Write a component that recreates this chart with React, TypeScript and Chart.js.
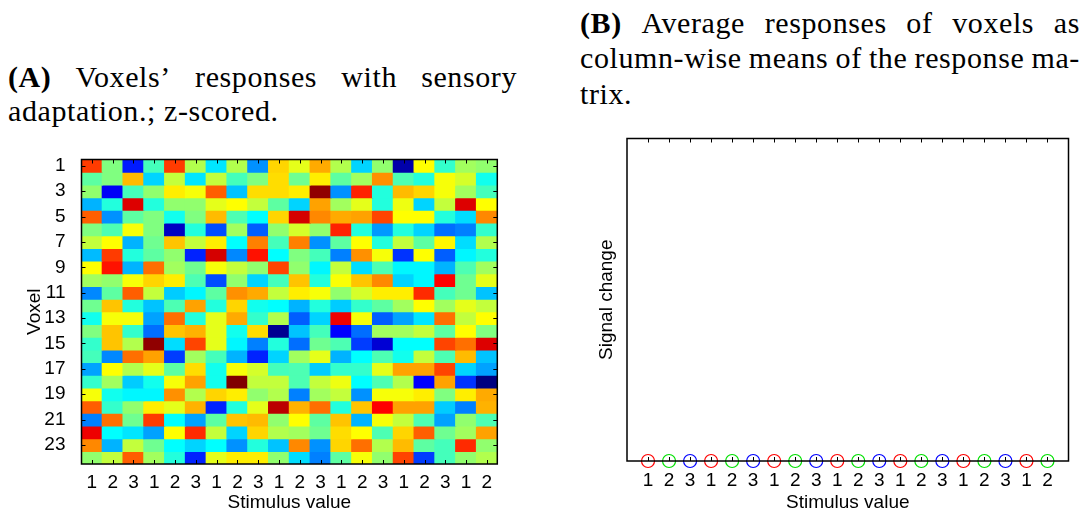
import React, { useEffect, useRef } from 'react';
import { Chart, registerables } from 'chart.js';

Chart.register(...registerables);

// Stimulus value shown in each of the 20 columns (trials)
const stimulusValues = [1, 2, 3, 1, 2, 3, 1, 2, 3, 1, 2, 3, 1, 2, 3, 1, 2, 3, 1, 2];

// Voxel rows that carry a tick label
const voxelTicks = [1, 3, 5, 7, 9, 11, 13, 15, 17, 19, 21, 23];

// z-scored responses: one row per voxel (24), one column per trial (20)
const responses = [
  [1.9, 0, -2.1, -0.35, 1.9, 0.3, -0.9, 0.3, -1.4, 1.0, 0.6, 1.25, 0.3, -1.0, 0.1, -2.75, 0.75, -0.45, 0.2, 0.1],
  [-0.2, 0, 1.15, -1.0, 0.4, -0.9, 0.4, -0.35, 0, 0.95, -0.1, 0.85, -0.2, 0.2, 1.4, -0.3, -0.55, 0.7, 0.5, -0.65],
  [0.1, -2.3, -0.35, 0.1, 0.85, 0.7, 1.7, -1.1, 0.95, 0.95, 0.85, 2.9, -1.4, 2.05, -0.55, 1.15, 1.0, 0.7, 0.2, -0.35],
  [-1.2, -0.55, 2.45, -0.55, 0.1, 0.1, 0.6, 0.75, 0.4, -0.2, -1.0, 1.3, 0.2, 0.6, -0.55, 0.65, -1.0, 0.4, 2.45, 0.75],
  [1.7, -1.4, -0.2, 0, -0.65, 0, 1.15, -0.3, -0.75, 1.0, 2.5, 1.45, 1.25, 1.3, 1.85, 0.75, 0.75, -0.55, -0.95, 1.45],
  [0, -0.3, 0.7, 0, -2.6, -0.55, -1.8, 0.2, -1.7, 0.1, 0.5, 0.1, 2.05, -0.55, -1.35, -0.55, -1.0, -1.6, -1.5, -0.45],
  [0.4, 0.75, -1.2, -0.1, 1.1, 0.4, 0.85, -0.75, 1.5, -0.35, 1.5, -1.4, -0.2, 0.75, -0.55, 0.4, -0.2, 0.8, -0.95, 0.3],
  [-1.15, 1.9, -0.55, -0.2, 0.1, -2.05, 2.5, -1.45, 2.15, -0.75, 0, -0.35, -1.5, 1.4, 0.7, -1.95, 0.75, -1.7, -0.8, -0.55],
  [0.75, 2.15, -1.2, 1.6, 0.2, -0.1, 0.7, 0.4, 0.1, 1.85, 0.1, -0.8, 0.4, -0.95, -0.3, -0.8, -0.8, -1.2, -0.3, 0.2],
  [0.2, 0.1, 0.7, 1.0, 0.85, -0.3, -1.8, 0.1, -1.0, -0.35, 1.1, -0.55, 0.72, 1.1, 1.45, -1.0, -0.8, 2.25, -0.1, 0.6],
  [-1.45, -0.2, 1.7, 0.4, -1.05, -0.8, -0.2, 1.4, 1.25, 0.4, 0.85, 0.7, 0.1, 0.5, 0.85, 0.85, 2.0, -0.35, -0.1, -1.1],
  [-0.1, 1.1, -0.55, -1.1, -0.3, 1.3, -0.55, 1.0, -0.65, -0.75, -1.2, -0.55, -1.05, -0.45, -0.2, 0.2, 0.75, 0.2, 0.6, 0.4],
  [-0.65, 0.7, 0.7, -1.3, 1.6, -0.55, 0.6, 1.25, -0.45, 0.3, -1.7, -1.0, 2.35, 0.7, -1.7, -1.3, -0.9, 1.6, 0.4, 0.75],
  [0, 1.1, -0.45, -1.6, 1.1, 1.2, 0.6, -0.65, 0.95, -2.9, -1.1, -0.35, -2.25, -1.6, 0.2, 0.2, 0.4, -0.2, 0.75, 0],
  [-0.45, 1.1, 0.3, 2.9, -0.95, 1.85, 0.6, -0.8, -1.5, -0.55, -1.6, -0.1, -0.3, -1.9, -2.5, -0.75, -0.75, 1.85, 1.6, 2.45],
  [-0.35, -1.45, 1.6, 1.3, -1.9, 0.2, -0.35, -1.2, -2.05, -1.0, 0.2, 0.6, -1.2, -0.75, -0.3, -0.65, 0.4, -0.3, 1.15, -1.1],
  [-1.3, 0.75, 0.3, 0.6, -0.2, 0.95, -0.65, 0.7, 0.5, -0.35, -0.3, -1.05, -0.45, -0.45, 0.6, 1.3, 1.3, 1.85, -1.0, -1.3],
  [-0.45, 0.2, -1.05, -0.65, 0.7, 1.3, -0.65, 3.0, 0.4, 0.4, -0.3, 0.4, 0.65, -0.75, -0.3, 0.3, -2.25, 1.3, -1.95, -3.0],
  [0.7, -0.65, -0.8, -0.8, 1.4, 0.3, 1.0, 0.85, 0.1, 0.3, -1.5, 0.2, 0.4, -1.4, 0.7, 0.7, 0.85, 0, 0.85, 1.25],
  [1.7, -0.45, 0.1, 0.85, 0.6, 1.2, -2.05, -0.55, 0.6, 2.65, 1.2, 1.6, -0.55, 1.1, 2.25, 1.3, 1.3, -1.05, -1.5, 1.2],
  [-1.5, 1.6, -0.1, 1.9, -0.75, -1.3, -0.2, 1.1, 1.15, 0.1, 0.75, -0.2, 1.1, -1.2, 0.7, 0.4, -0.3, -1.3, 0.1, -0.3],
  [2.35, -0.75, -0.9, -1.3, 0.75, 2.0, 0.4, -1.0, 1.0, 0.3, 0.2, -0.1, 0.95, 0.75, -0.3, 1.0, 1.7, -0.1, 0.2, 1.3],
  [1.45, -1.2, 0.4, -0.1, -0.75, -1.0, -0.75, -1.4, -0.55, -1.1, 1.45, -1.4, 1.0, 1.6, 0.3, 1.15, -0.2, -0.35, 2.0, 0.1],
  [0.1, 0.4, 1.7, 0.2, -0.55, -2.05, 0.6, 0.85, 0.85, 0.1, -0.95, -1.5, -0.2, 0.7, 0.1, 1.85, -1.9, -0.35, 0.1, 0.3],
];

// Average response per trial as plotted in panel B
const columnMeans = [0, 0, 0, 0, 0, 0, 0, 0, 0, 0, 0, 0, 0, 0, 0, 0, 0, 0, 0, 0];

// Colour limits of the heat map
const colorLimits = [-3, 3];

// Marker colour per stimulus value
const stimulusColors: Record<number, string> = { 1: '#ff0000', 2: '#00e000', 3: '#0000ff' };

const titleA1 = ['(A)', 'Voxels\u2019', 'responses', 'with', 'sensory'];
const titleA2 = 'adaptation.; z-scored.';
const titleB1 = ['(B)', 'Average', 'responses', 'of', 'voxels', 'as'];
const titleB2 = ['column-wise', 'means', 'of', 'the', 'response', 'ma-'];
const titleB3 = 'trix.';

const SERIF = '"Liberation Serif", "DejaVu Serif", serif';
const SANS = '"Liberation Sans", Arial, sans-serif';

function clamp01(v: number) {
  return Math.max(0, Math.min(1, v));
}

// MATLAB-style "jet" colour map
function jet(value: number) {
  const t = clamp01((value - colorLimits[0]) / (colorLimits[1] - colorLimits[0]));
  const r = clamp01(1.5 - Math.abs(4 * t - 3));
  const g = clamp01(1.5 - Math.abs(4 * t - 2));
  const b = clamp01(1.5 - Math.abs(4 * t - 1));
  return `rgb(${Math.round(r * 255)},${Math.round(g * 255)},${Math.round(b * 255)})`;
}

type FrameOpts = {
  xTicks: number[];
  yTicks: number[];
  top: boolean;
  bottom: boolean;
  left: boolean;
  right: boolean;
  length: number;
};

// Draws the axes box with inward-pointing tick marks
function makeFrame(o: FrameOpts) {
  return {
    id: 'frameTicks',
    afterDatasetsDraw(chart: any) {
      const { ctx, chartArea: a, scales } = chart;
      ctx.save();
      ctx.strokeStyle = '#000';
      ctx.lineWidth = 1;
      ctx.beginPath();
      for (const v of o.xTicks) {
        const px = Math.round(scales.x.getPixelForValue(v)) + 0.5;
        if (o.bottom) {
          ctx.moveTo(px, a.bottom);
          ctx.lineTo(px, a.bottom - o.length);
        }
        if (o.top) {
          ctx.moveTo(px, a.top);
          ctx.lineTo(px, a.top + o.length);
        }
      }
      for (const v of o.yTicks) {
        const py = Math.round(scales.y.getPixelForValue(v)) + 0.5;
        if (o.left) {
          ctx.moveTo(a.left, py);
          ctx.lineTo(a.left + o.length, py);
        }
        if (o.right) {
          ctx.moveTo(a.right, py);
          ctx.lineTo(a.right - o.length, py);
        }
      }
      ctx.stroke();
      ctx.lineWidth = 1.5;
      ctx.strokeRect(a.left, a.top, a.right - a.left, a.bottom - a.top);
      ctx.restore();
    },
  };
}

const tickFont = { family: SANS, size: 19, lineHeight: 1 };
const titleFont = { family: SANS, size: 19, lineHeight: 1 };

function HeatmapChart() {
  const ref = useRef<HTMLCanvasElement>(null);
  useEffect(() => {
    if (!ref.current) return;
    const datasets = responses.map((row, r) => ({
      label: `Voxel ${r + 1}`,
      data: row.map(() => [r + 0.5, r + 1.5]),
      backgroundColor: row.map((v) => jet(v)),
      borderWidth: 0,
      borderSkipped: false,
      inflateAmount: 0.6,
      barPercentage: 1,
      categoryPercentage: 1,
      grouped: false,
    }));
    const chart = new Chart(ref.current, {
      type: 'bar',
      data: { labels: stimulusValues.map(String), datasets: datasets as any },
      options: {
        animation: false,
        responsive: false,
        devicePixelRatio: 1,
        events: [],
        layout: { padding: { left: 0, top: 19.5, right: 42.7, bottom: 0 } },
        plugins: { legend: { display: false }, tooltip: { enabled: false } },
        scales: {
          x: {
            type: 'category',
            grid: { display: false },
            border: { display: false },
            ticks: { color: '#000', font: tickFont, padding: 1, autoSkip: false, maxRotation: 0 },
            title: { display: true, text: 'Stimulus value', color: '#000', font: titleFont, padding: 0 },
            afterFit: (s: any) => {
              s.height = 48;
            },
          },
          y: {
            type: 'linear',
            min: 0.5,
            max: 24.5,
            reverse: true,
            grid: { display: false },
            border: { display: false },
            afterBuildTicks: (s: any) => {
              s.ticks = voxelTicks.map((v) => ({ value: v }));
            },
            ticks: { color: '#000', font: tickFont, padding: 8, callback: (v: any) => String(v) },
            title: {
              display: true,
              text: 'Voxel',
              color: '#000',
              font: titleFont,
              padding: { top: 25.5, bottom: 0 },
            },
            afterFit: (s: any) => {
              s.width = 81.5;
            },
          },
        },
      } as any,
      plugins: [
        makeFrame({
          xTicks: stimulusValues.map((_, i) => i),
          yTicks: voxelTicks,
          top: true,
          bottom: true,
          left: true,
          right: true,
          length: 4,
        }),
      ],
    });
    return () => chart.destroy();
  }, []);
  return <canvas ref={ref} width={540} height={372} style={{ display: 'block' }} />;
}

function MeansChart() {
  const ref = useRef<HTMLCanvasElement>(null);
  useEffect(() => {
    if (!ref.current) return;
    const chart = new Chart(ref.current, {
      type: 'scatter',
      data: {
        datasets: [
          {
            label: 'Mean response',
            data: columnMeans.map((y, i) => ({ x: i + 1, y })),
            showLine: false,
            pointStyle: 'circle',
            pointRadius: 6.5,
            pointBorderWidth: 1.2,
            pointBackgroundColor: 'rgba(0,0,0,0)',
            pointBorderColor: stimulusValues.map((s) => stimulusColors[s]),
            clip: false,
          } as any,
        ],
      },
      options: {
        animation: false,
        responsive: false,
        devicePixelRatio: 1,
        events: [],
        layout: { padding: { left: 0, top: 18.5, right: 19.5, bottom: 0 } },
        plugins: { legend: { display: false }, tooltip: { enabled: false } },
        scales: {
          x: {
            type: 'linear',
            min: 0,
            max: stimulusValues.length + 1,
            grid: { display: false },
            border: { display: false },
            afterBuildTicks: (s: any) => {
              s.ticks = stimulusValues.map((_, i) => ({ value: i + 1 }));
            },
            ticks: {
              color: '#000',
              font: tickFont,
              padding: 2.5,
              autoSkip: false,
              maxRotation: 0,
              callback: (v: any) => String(stimulusValues[Number(v) - 1]),
            },
            title: { display: true, text: 'Stimulus value', color: '#000', font: titleFont, padding: 0 },
            afterFit: (s: any) => {
              s.height = 51;
            },
          },
          y: {
            type: 'linear',
            min: 0,
            max: 1,
            grid: { display: false },
            border: { display: false },
            ticks: { display: false },
            title: {
              display: true,
              text: 'Signal change',
              color: '#000',
              font: titleFont,
              padding: { top: 37, bottom: 0 },
            },
            afterFit: (s: any) => {
              s.width = 67;
            },
          },
        },
      } as any,
      plugins: [
        makeFrame({
          xTicks: stimulusValues.map((_, i) => i + 1),
          yTicks: [],
          top: true,
          bottom: true,
          left: false,
          right: false,
          length: 4,
        }),
      ],
    });
    return () => chart.destroy();
  }, []);
  return <canvas ref={ref} width={528} height={392} style={{ display: 'block' }} />;
}

const titleStyle: React.CSSProperties = {
  position: 'absolute',
  fontFamily: SERIF,
  fontSize: 30,
  lineHeight: '30px',
  letterSpacing: '0.6px',
  color: '#000',
  whiteSpace: 'nowrap',
};

function JustifiedLine({ words, left, top, width, boldFirst }: { words: string[]; left: number; top: number; width: number; boldFirst?: boolean }) {
  return (
    <div style={{ ...titleStyle, left, top, width, display: 'flex', justifyContent: 'space-between' }}>
      {words.map((w, i) => (
        <span key={i} style={{ fontWeight: boldFirst && i === 0 ? 'bold' : 'normal' }}>
          {w}
        </span>
      ))}
    </div>
  );
}

export default function App() {
  return (
    <div style={{ position: 'fixed', left: 0, top: 0, width: 1088, height: 512, background: '#fff', overflow: 'hidden' }}>
      <JustifiedLine words={titleA1} left={8} top={62} width={509} boldFirst />
      <div style={{ ...titleStyle, left: 8, top: 96 }}>{titleA2}</div>
      <JustifiedLine words={titleB1} left={580} top={8} width={500} boldFirst />
      <JustifiedLine words={titleB2} left={580} top={43} width={500} />
      <div style={{ ...titleStyle, left: 580, top: 79 }}>{titleB3}</div>
      <div style={{ position: 'absolute', left: 0, top: 140, width: 540, height: 372 }}>
        <HeatmapChart />
      </div>
      <div style={{ position: 'absolute', left: 560, top: 120, width: 528, height: 392 }}>
        <MeansChart />
      </div>
    </div>
  );
}
